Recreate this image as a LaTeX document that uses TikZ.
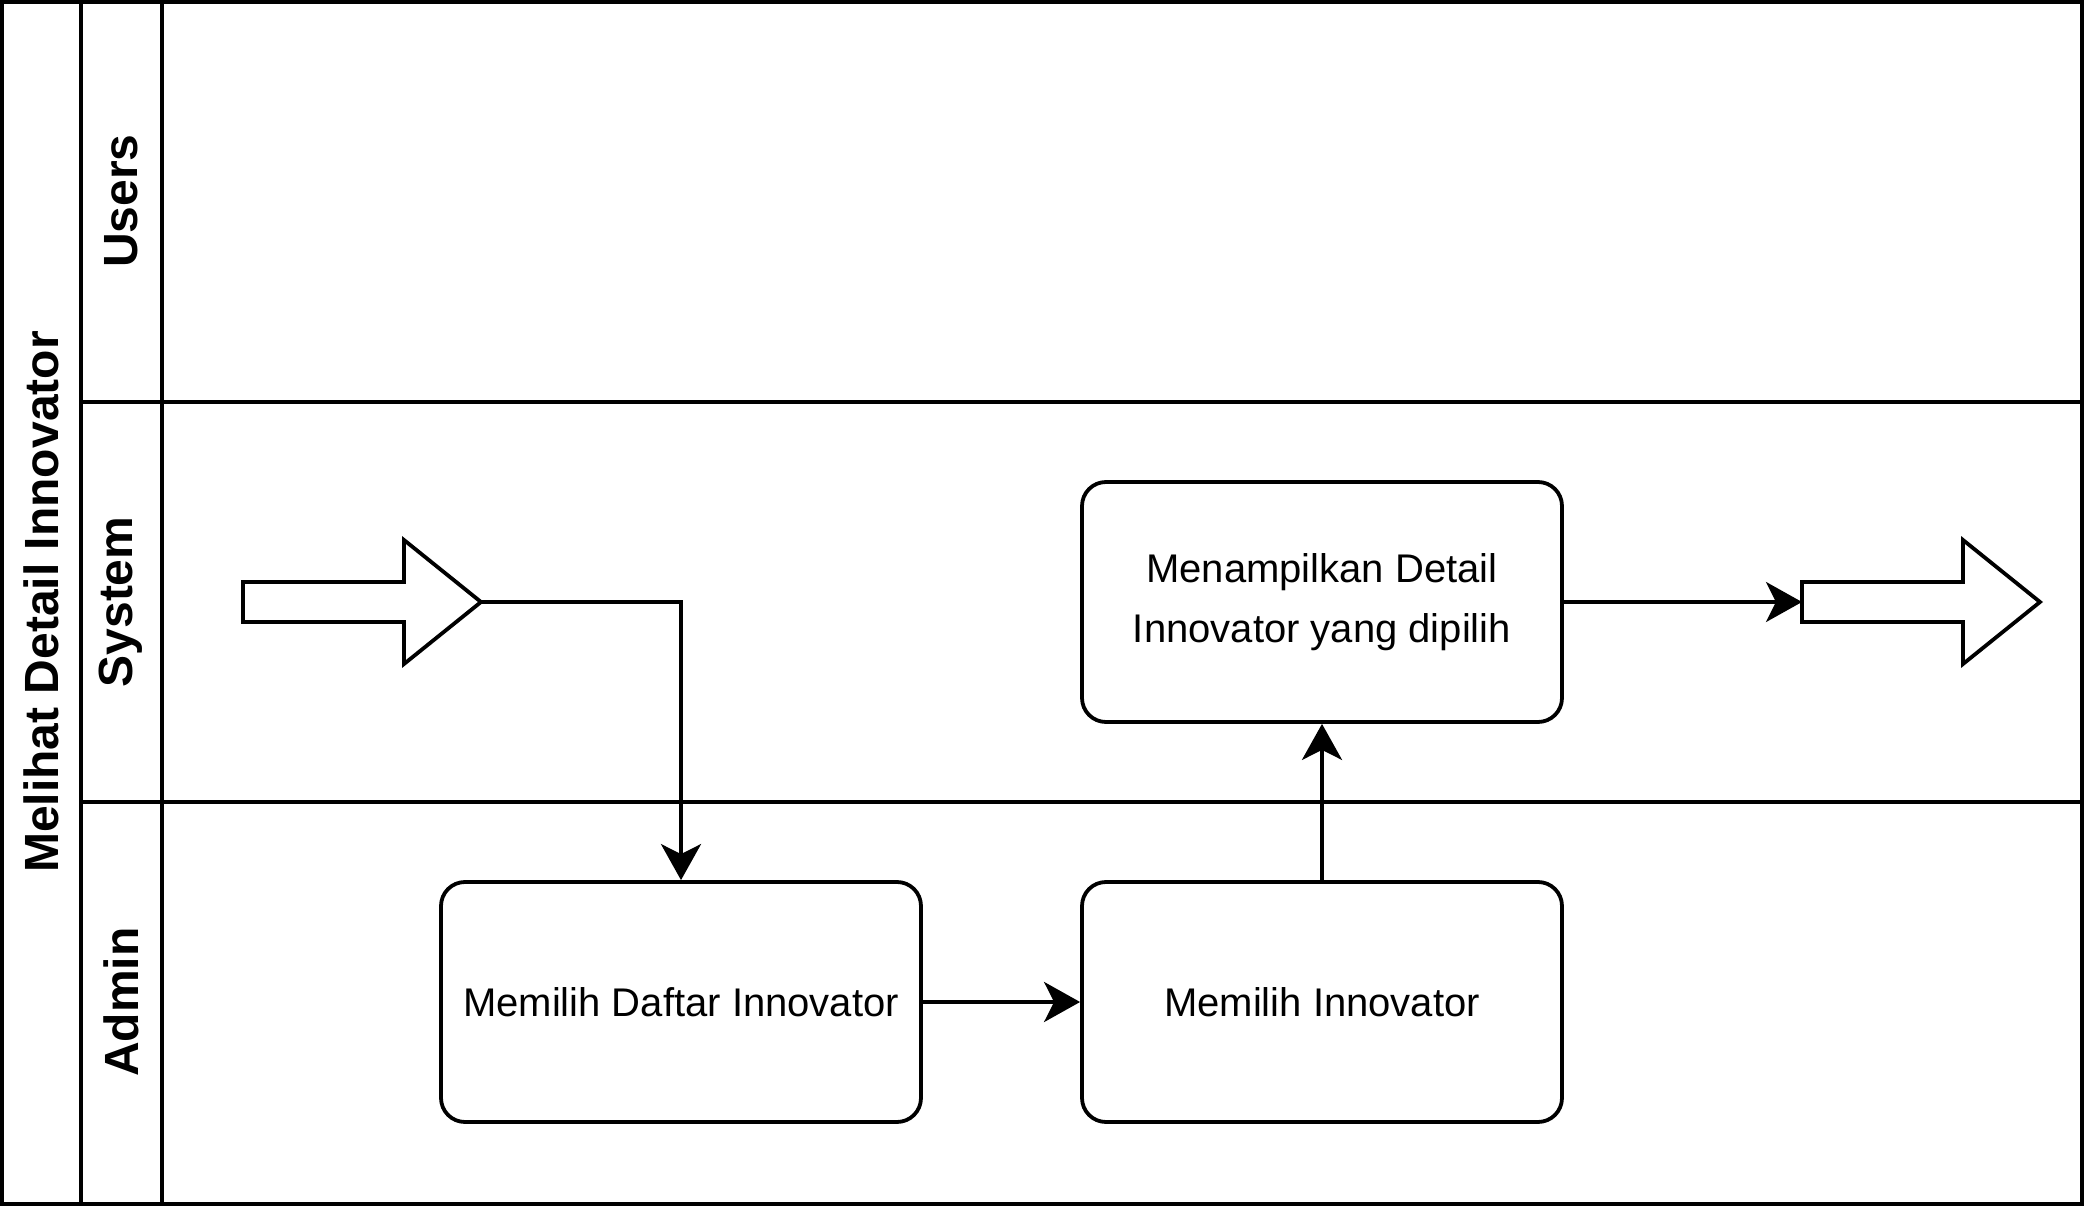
\documentclass[tikz,border=0pt]{standalone}
\usepackage{fontspec}
\setmainfont{Liberation Sans}
\usetikzlibrary{arrows.meta}

\begin{document}
\begin{tikzpicture}[x=0.5pt,y=-0.5pt,line width=1.9pt,
        lane/.style={font=\fontsize{24}{28}\selectfont\bfseries,rotate=90},
        task/.style={draw,rounded corners=12pt,minimum width=240pt,minimum height=120pt,
          align=center,font=\fontsize{20}{30}\selectfont},
        flow/.style={-{Stealth[length=18pt,width=20pt,inset=5pt]}}]
        \useasboundingbox (0,0) rectangle (2084,1208);
        \draw (2,2) rectangle (2082,1204);
        \draw (81,2)--(81,1204);
        \draw (162,2)--(162,1204);
        \draw (81,402)--(2082,402);
        \draw (81,802)--(2082,802);
        \node[lane] (pool) at (41,602) {Melihat Detail Innovator};
        \node[lane] (users) at (121,201) {Users};
        \node[lane] (system) at (121,602) {System};
        \node[lane] (admin) at (121,1002) {Admin};
        \draw (243,582)--(404,582)--(404,540)--(481,602)--(404,664)--(404,622)--(243,622)--cycle;
        \coordinate (start) at (481,602);
        \draw (1802,582)--(1963,582)--(1963,540)--(2040,602)--(1963,664)--(1963,622)--(1802,622)--cycle;
        \coordinate (finish) at (1802,602);
        \node[task] (detail) at (1322,602) {Menampilkan Detail\\Innovator yang dipilih};
        \node[task] (daftar) at (681,1002) {Memilih Daftar Innovator};
        \node[task] (pilih) at (1322,1002) {Memilih Innovator};
        \draw[flow] (start) -| (daftar);
        \draw[flow] (daftar) -- (pilih);
        \draw[flow] (pilih) -- (detail);
        \draw[flow] (detail) -- (finish);
      \end{tikzpicture}
\end{document}
